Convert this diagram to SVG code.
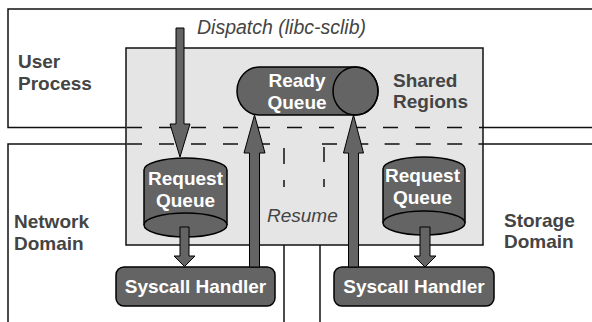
<svg xmlns="http://www.w3.org/2000/svg" width="592" height="322" viewBox="0 0 592 322">
  <style>
    .frame { fill: none; stroke: #111; stroke-width: 1.5; }
    .dash { fill: none; stroke: #111; stroke-width: 1.5; stroke-dasharray: 15 17; }
    .region { fill: #e5e5e5; stroke: #111; stroke-width: 1.5; }
    .shape { fill: #646464; stroke: #000; stroke-width: 1.5; }
    .edge { fill: none; stroke: #000; stroke-width: 1.5; }
    .arrow { fill: #646464; stroke: #000; stroke-width: 1; stroke-linejoin: miter; }
    .label { font-family: "Liberation Sans", Arial, sans-serif; font-weight: bold; font-size: 19px; fill: #444; }
    .inner { font-family: "Liberation Sans", Arial, sans-serif; font-weight: bold; font-size: 19px; fill: #fff; text-anchor: middle; }
    .note { font-family: "Liberation Sans", Arial, sans-serif; font-style: italic; font-size: 19px; fill: #444; }
  </style>

  <!-- Protection domains -->
  <g id="user-process">
    <path class="frame" d="M592,9 H8 V127.5 H126"/>
    <path class="frame" d="M483,127.5 H592"/>
    <text class="label" x="18" y="68">User</text>
    <text class="label" x="18" y="90">Process</text>
  </g>
  <g id="network-domain">
    <path class="frame" d="M126,144 H8 V322"/>
    <path class="frame" d="M284,245 V322"/>
    <text class="label" x="14" y="228">Network</text>
    <text class="label" x="14" y="250">Domain</text>
  </g>
  <g id="storage-domain">
    <path class="frame" d="M483,144 H592"/>
    <path class="frame" d="M320,245 V322"/>
    <text class="label" x="504" y="227">Storage</text>
    <text class="label" x="504" y="248">Domain</text>
  </g>

  <!-- Shared memory area -->
  <g id="shared-regions">
    <rect class="region" x="126" y="48" width="357" height="197"/>
    <path class="dash" d="M127,127.5 H483"/>
    <path class="dash" d="M127,144 H270"/>
    <path class="dash" d="M322,144 H483" style="stroke-dasharray: 15 16.3"/>
    <path class="frame" d="M284,148 V164 M284,180 V187 M324,147 V162 M324,179 V187"/>
    <text class="label" x="393" y="87">Shared</text>
    <text class="label" x="393" y="108">Regions</text>
    <text class="note" x="267" y="221.5">Resume</text>
  </g>

  <text class="note" x="197" y="34" style="font-size:19.5px">Dispatch (libc-sclib)</text>

  <!-- Queues and handlers -->
  <g id="ready-queue">
    <path class="shape" d="M259.5,67 H355.5 A22.5,24 0 0 1 355.5,115 H259.5 A22.5,24 0 0 1 259.5,67 Z"/>
    <ellipse class="edge" cx="355.5" cy="91" rx="22.5" ry="24"/>
    <text class="inner" x="297" y="87">Ready</text>
    <text class="inner" x="297" y="108.5">Queue</text>
  </g>

  <g id="network-request-queue">
    <path class="shape" d="M144,170 A41.5,12 0 0 1 227,170 V225 A41.5,12 0 0 1 144,225 Z"/>
    <path class="edge" d="M144,225 A41.5,12 0 0 1 227,225"/>
    <text class="inner" x="185.5" y="185">Request</text>
    <text class="inner" x="185.5" y="207">Queue</text>
  </g>

  <g id="storage-request-queue">
    <path class="shape" d="M383,169 A41,12 0 0 1 465,169 V223 A41,12 0 0 1 383,223 Z"/>
    <path class="edge" d="M383,223 A41,12 0 0 1 465,223"/>
    <text class="inner" x="422.5" y="182">Request</text>
    <text class="inner" x="422.5" y="204">Queue</text>
  </g>

  <g id="network-syscall-handler">
    <rect class="shape" x="116" y="267" width="159" height="39" rx="8"/>
    <text class="inner" x="195.5" y="293">Syscall Handler</text>
  </g>

  <g id="storage-syscall-handler">
    <rect class="shape" x="334" y="267" width="160" height="39" rx="8"/>
    <text class="inner" x="414" y="293">Syscall Handler</text>
  </g>

  <!-- Flow arrows -->
  <g id="connectors">
    <polygon class="arrow" points="176,28 184,28 184,124 190,124 180,157 170,124 176,124"/>
    <polygon class="arrow" points="180,227 189,227 189,256 195,256 184.5,266.5 174,256 180,256"/>
    <polygon class="arrow" points="420,227 430,227 430,256 436,256 425,267 414,256 420,256"/>
    <polygon class="arrow" points="254.5,115 265,153 259.5,153 259.5,267 249.5,267 249.5,153 244,153"/>
    <polygon class="arrow" points="353.5,115 363.5,153 358.5,153 358.5,267 348.5,267 348.5,153 343.5,153"/>
  </g>
</svg>
